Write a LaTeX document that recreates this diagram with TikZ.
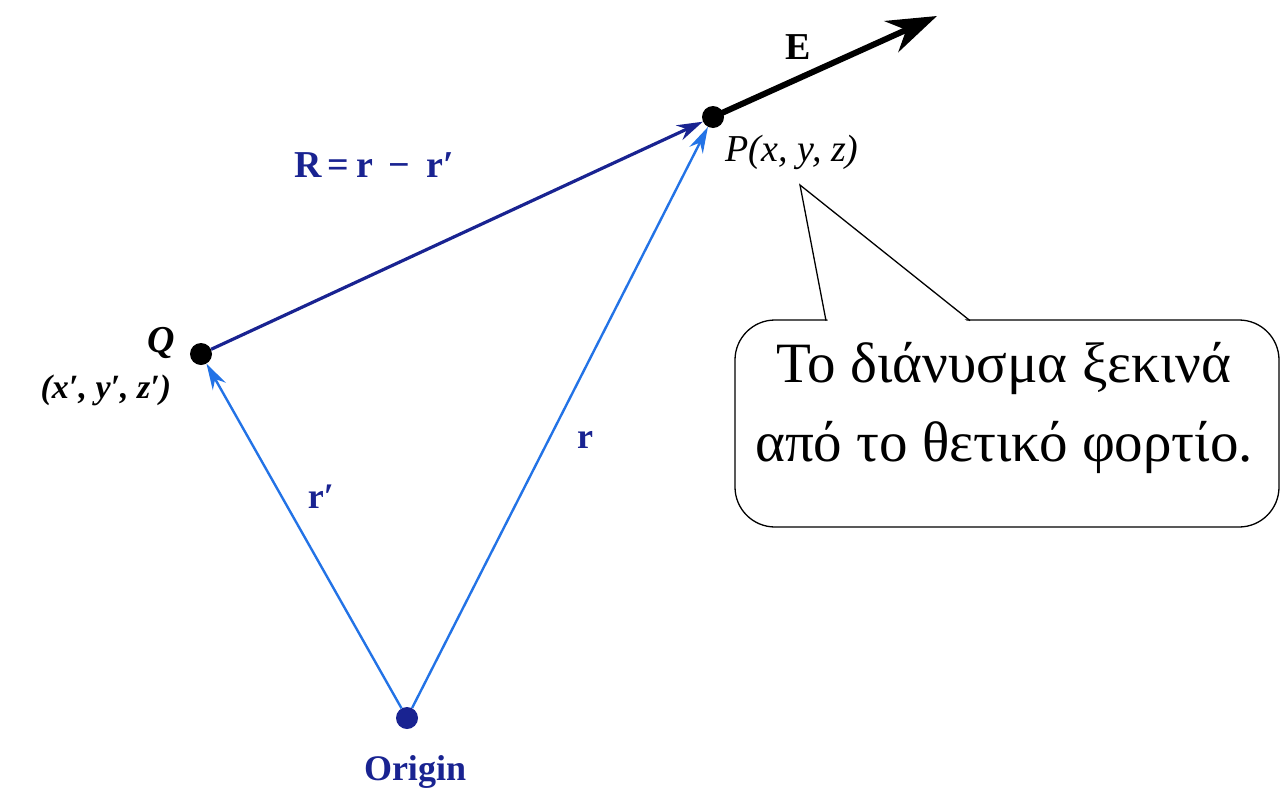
\documentclass[tikz,border=0pt]{standalone}
\usepackage{fontspec}
\setmainfont{Liberation Serif}
\usetikzlibrary{arrows.meta,positioning}
\definecolor{navy}{RGB}{25,35,145}
\definecolor{skyblue}{RGB}{35,115,230}
\tikzset{
  dot/.style={circle,fill=#1,inner sep=0pt,minimum size=22pt},
  lbl/.style={font=\fontsize{36}{40}\selectfont\bfseries},
  vec/.style={line width=2.4pt,skyblue,-{Stealth[length=26pt,width=15pt]}},
  balloon/.style={draw,line width=1.3pt,rounded corners=40pt}
}
\begin{document}
\begin{tikzpicture}[x=1pt,y=-1pt]
\useasboundingbox (0,0) rectangle (1282,790);
% points
\node[dot=navy] (O) at (407,718) {};
\node[dot=black] (Q) at (201,354) {};
\node[dot=black] (P) at (713,117) {};
\coordinate (Etip) at (937,16);

% labels
\node[lbl,navy] at (415,772) {Origin};
\node[lbl,font=\fontsize{38}{40}\selectfont\bfseries\itshape] at (161,343) {Q};
\node[lbl,font=\fontsize{34}{40}\selectfont\bfseries\itshape] at (106,390) {(x′, y′, z′)};
\node[font=\fontsize{38}{40}\selectfont\itshape,anchor=west] at (722,152) {P(x, y, z)};
\node[lbl,font=\fontsize{38}{40}\selectfont\bfseries] at (798,47) {E};
\node[lbl,navy,font=\fontsize{38}{40}\selectfont\bfseries] at (374,165) {R\,=\,r \,−\, r′};
\node[lbl,navy] at (321,497) {r′};
\node[lbl,navy] at (585,440) {r};

% vectors
\draw[vec] (O) -- (Q);
\draw[vec] (O) -- (P);
\draw[line width=3.2pt,navy,-{Stealth[length=26pt,width=16pt]}] (Q) -- (P);
\draw[line width=6pt,-{Stealth[length=50pt,width=34pt]}] (P.center) -- (Etip);

% callout
\draw[balloon] (735,320) rectangle (1279,527);
\node[font=\fontsize{57}{79}\selectfont,align=center] (note) at (1004,408) {Το διάνυσμα ξεκινά\\από το θετικό φορτίο.};
\coordinate (tip) at (800,185);
\fill[white] (828,322) -- (tip) -- (968,322) -- cycle;
\draw[line width=1.3pt] (826,320.65) -- (tip) -- (970,320.65);
\end{tikzpicture}
\end{document}
